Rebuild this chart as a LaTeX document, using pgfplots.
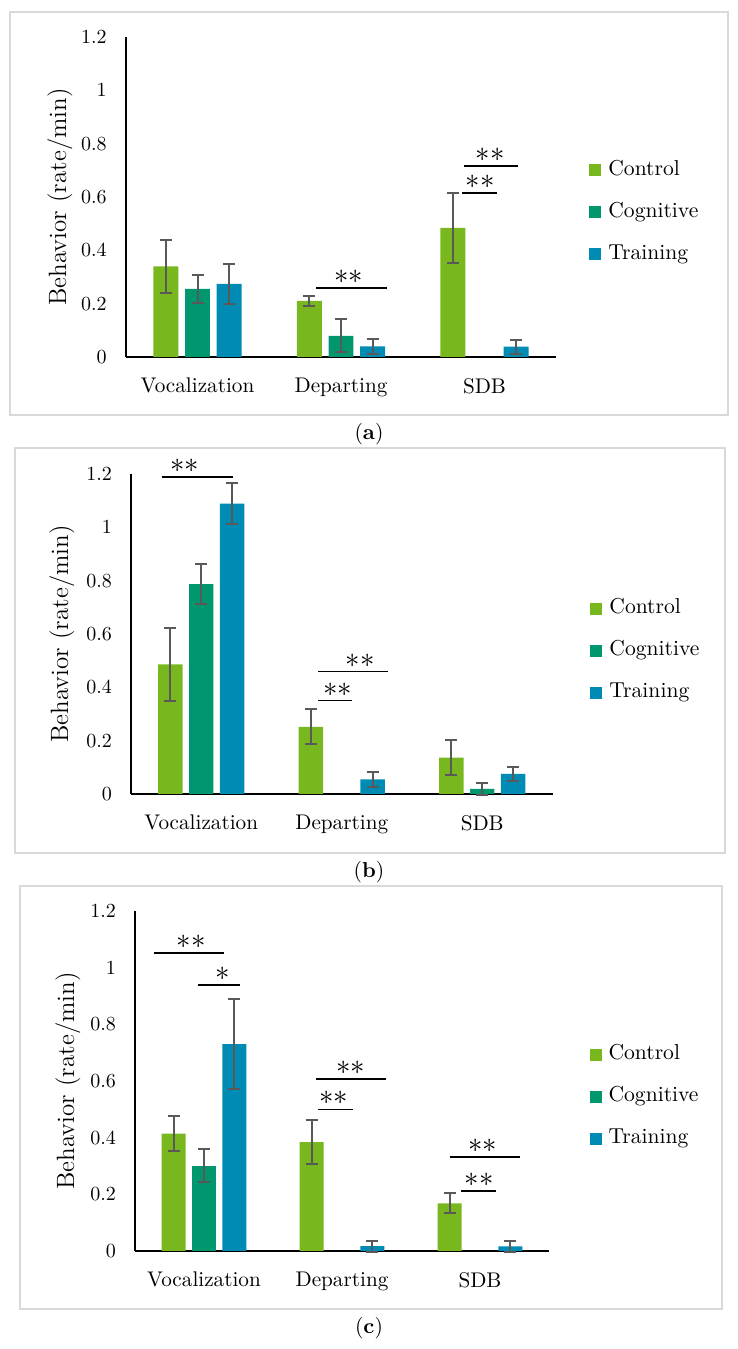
\documentclass[border=0pt]{standalone}
\usepackage{pgfplots}
\pgfplotsset{compat=1.18}
\definecolor{ctrlc}{HTML}{78B81E}
\definecolor{cognc}{HTML}{00966E}
\definecolor{trainc}{HTML}{008BB4}
\definecolor{errc}{HTML}{595959}
\definecolor{framec}{HTML}{D9D9D9}
\tikzset{
  sig/.style={draw=black, line width=0.75pt},
  st/.style={font=\fontsize{14}{16}\selectfont, anchor=south, inner sep=0pt, yshift=2pt},
}
\pgfplotsset{
  panel/.style={
    scale only axis,
    ymin=0, ymax=1.2, xmin=-0.5, xmax=2.5,
    axis x line*=bottom, axis y line*=left,
    axis line style={black, line width=1pt},
    ytick={0,0.2,0.4,0.6,0.8,1,1.2},
    xtick={0,1,2},
    xticklabels={Vocalization,Departing,SDB},
    major tick length=0pt,
    tick style={draw=none},
    yticklabel style={font=\fontsize{10.4}{12}\selectfont, xshift=-6pt},
    xticklabel style={font=\fontsize{10.6}{12}\selectfont, yshift=-7pt},
    ylabel={Behavior (rate/min)},
    ybar, bar width=0.174,
    clip=false,
    legend style={draw=none, fill=none, inner sep=0pt, anchor=west, row sep=10pt, column sep=2.5pt,
      font=\fontsize{10.8}{12}\selectfont,
      nodes={inner sep=1pt, text height=7pt, text depth=2pt, anchor=west}},
    legend cell align=left,
  },
  sq/.style={legend image code/.code={\fill[##1,/tikz/.cd] (0pt,-3pt) rectangle (6pt,3pt);}},
  eb/.style={error bars/.cd, y dir=both, y explicit,
    error bar style={draw=errc, line width=1pt},
    error mark options={draw=errc, line width=1pt, mark size=3pt, rotate=90}},
  pc/.style={fill=ctrlc, draw=none, bar shift=-0.22, sq, eb},
  pg/.style={fill=cognc, draw=none, bar shift=0, sq, eb},
  ptr/.style={fill=trainc, draw=none, bar shift=0.22, sq, eb},
}
\begin{document}
\begin{tikzpicture}
\path[use as bounding box] (0,0) rectangle (369pt,674.5pt);
% frames and captions
\draw[framec, line width=1pt] (5pt,467pt) rectangle (364pt,668.5pt);
\draw[framec, line width=1pt] (7.5pt,248pt) rectangle (362.5pt,450.5pt);
\draw[framec, line width=1pt] (10pt,20pt) rectangle (361pt,231.5pt);
\node[font=\fontsize{10.8}{12}\selectfont] at (184.5pt,457.5pt) {(\textbf{a})};
\node[font=\fontsize{10.8}{12}\selectfont] at (184.5pt,238.5pt) {(\textbf{b})};
\node[font=\fontsize{10.8}{12}\selectfont] at (184.5pt,10.5pt) {(\textbf{c})};

% ---------------- panel (a)
\begin{axis}[panel, at={(62.875pt,496pt)}, anchor=south west,
  width=215.25pt, height=160pt,
  ylabel style={font=\fontsize{12.5}{14}\selectfont, at={(axis description cs:-0.153,0.5)}, anchor=center},
  legend style={at={(1.076,0.453)}}]
\addplot[pc] coordinates {(0,0.34) +- (0,0.10) (1,0.21) +- (0,0.02) (2,0.484) +- (0,0.13)};
\addplot[pg] coordinates {(0,0.255) +- (0,0.052) (1,0.079) +- (0,0.062)};
\addplot[ptr] coordinates {(0,0.274) +- (0,0.074) (1,0.04) +- (0,0.027) (2,0.039) +- (0,0.026)};
\legend{Control,Cognitive,Training}
\draw[sig] (axis cs:0.826,0.259) -- (axis cs:1.32,0.259);
\node[st] at (axis cs:1.055,0.259) {$\ast\ast$};
\draw[sig] (axis cs:1.855,0.716) -- (axis cs:2.23,0.716);
\node[st] at (axis cs:2.04,0.716) {$\ast\ast$};
\draw[sig] (axis cs:1.84,0.615) -- (axis cs:2.085,0.615);
\node[st] at (axis cs:1.97,0.615) {$\ast\ast$};
\end{axis}

% ---------------- panel (b)
\begin{axis}[panel, at={(65.5pt,277.5pt)}, anchor=south west,
  width=210.75pt, height=160pt,
  ylabel style={font=\fontsize{12.5}{14}\selectfont, at={(axis description cs:-0.164,0.5)}, anchor=center},
  legend style={at={(1.089,0.447)}}]
\addplot[pc] coordinates {(0,0.486) +- (0,0.138) (1,0.252) +- (0,0.066) (2,0.136) +- (0,0.066)};
\addplot[pg] coordinates {(0,0.787) +- (0,0.075) (2,0.019) +- (0,0.023)};
\addplot[ptr] coordinates {(0,1.089) +- (0,0.076) (1,0.055) +- (0,0.028) (2,0.075) +- (0,0.027)};
\legend{Control,Cognitive,Training}
\draw[sig] (axis cs:-0.279,1.188) -- (axis cs:0.226,1.188);
\node[st] at (axis cs:-0.116,1.188) {$\ast\ast$};
\draw[sig] (axis cs:0.831,0.459) -- (axis cs:1.329,0.459);
\node[st] at (axis cs:1.13,0.459) {$\ast\ast$};
\draw[sig] (axis cs:0.831,0.35) -- (axis cs:1.073,0.35);
\node[st] at (axis cs:0.973,0.35) {$\ast\ast$};
\end{axis}

% ---------------- panel (c)
\begin{axis}[panel, at={(67.5pt,49pt)}, anchor=south west,
  width=207pt, height=170pt,
  ylabel style={font=\fontsize{12.5}{14}\selectfont, at={(axis description cs:-0.162,0.5)}, anchor=center},
  legend style={at={(1.097,0.453)}}]
\addplot[pc] coordinates {(0,0.414) +- (0,0.061) (1,0.384) +- (0,0.077) (2,0.168) +- (0,0.035)};
\addplot[pg] coordinates {(0,0.301) +- (0,0.058)};
\addplot[ptr] coordinates {(0,0.73) +- (0,0.159) (1,0.017) +- (0,0.02) (2,0.016) +- (0,0.021)};
\legend{Control,Cognitive,Training}
\draw[sig] (axis cs:-0.362,1.051) -- (axis cs:0.145,1.051);
\node[st] at (axis cs:-0.094,1.051) {$\ast\ast$};
\draw[sig] (axis cs:-0.043,0.939) -- (axis cs:0.261,0.939);
\node[st] at (axis cs:0.138,0.939) {$\ast$};
\draw[sig] (axis cs:0.812,0.607) -- (axis cs:1.319,0.607);
\node[st] at (axis cs:1.065,0.607) {$\ast\ast$};
\draw[sig] (axis cs:0.826,0.5) -- (axis cs:1.08,0.5);
\node[st] at (axis cs:0.942,0.5) {$\ast\ast$};
\draw[sig] (axis cs:1.783,0.332) -- (axis cs:2.29,0.332);
\node[st] at (axis cs:2.02,0.332) {$\ast\ast$};
\draw[sig] (axis cs:1.862,0.212) -- (axis cs:2.116,0.212);
\node[st] at (axis cs:1.993,0.212) {$\ast\ast$};
\end{axis}
\end{tikzpicture}
\end{document}
